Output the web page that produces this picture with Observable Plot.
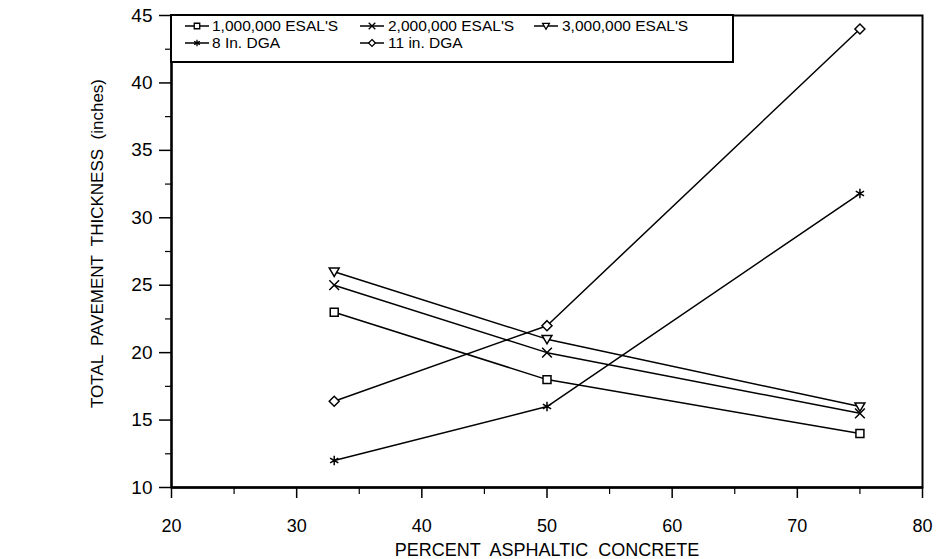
<!DOCTYPE html>
<html>
<head>
<meta charset="utf-8">
<script src="https://cdn.jsdelivr.net/npm/d3@7"></script>
<script src="https://cdn.jsdelivr.net/npm/@observablehq/plot@0.6"></script>
<style>
  html, body { margin: 0; padding: 0; background: #fff; }
  #chart { width: 937px; height: 559px; }
</style>
</head>
<body>
<div id="chart"></div>
<script>
// ---- data ----
const xValues = [33, 50, 75];
const seriesNames = ["1,000,000 ESAL'S", "2,000,000 ESAL'S", "3,000,000 ESAL'S", "8 In. DGA", "11 in. DGA"];
const esal1M = [23, 18, 14];
const esal2M = [25, 20, 15.5];
const esal3M = [26, 21, 16];
const dga8 = [12, 16, 31.8];
const dga11 = [16.4, 22, 44];
const xTicks = [20, 30, 40, 50, 60, 70, 80];
const xMinorTicks = [25, 35, 45, 55, 65, 75];
const yTicks = [10, 15, 20, 25, 30, 35, 40, 45];
const yMinorTicks = [12.5, 17.5, 22.5, 27.5, 32.5, 37.5, 42.5];
const xTitle = "PERCENT  ASPHALTIC  CONCRETE";
const yTitle = "TOTAL  PAVEMENT  THICKNESS  (inches)";

const seriesValues = [esal1M, esal2M, esal3M, dga8, dga11];

const triangleDown = {
  draw(context, size) {
    const s = Math.sqrt(size) * 0.62;
    context.moveTo(-s, -s * 0.75);
    context.lineTo(s, -s * 0.75);
    context.lineTo(0, s * 0.95);
    context.closePath();
  }
};
const seriesSymbols = [d3.symbolSquare, d3.symbolTimes, triangleDown, d3.symbolAsterisk, d3.symbolDiamond2];

const rows = seriesNames.flatMap((s, i) =>
  xValues.map((x, j) => ({ series: s, x, y: seriesValues[i][j] }))
);

const font = "'Liberation Sans', Arial, sans-serif";

const chart = Plot.plot({
  width: 937,
  height: 559,
  marginLeft: 171,
  marginRight: 15,
  marginTop: 15,
  marginBottom: 72,
  style: { fontFamily: font, background: "#fff", color: "#000" },
  x: { domain: [20, 80] },
  y: { domain: [10, 45] },
  marks: [
    Plot.axisX({ ticks: xTicks, tickSize: 11, tickPadding: 21, fontSize: 18, label: null, strokeWidth: 1.5 }),
    Plot.axisX({ ticks: xMinorTicks, tickSize: 7, tickFormat: () => "", label: null, strokeWidth: 1.2 }),
    Plot.axisY({ ticks: yTicks, tickSize: 12, tickPadding: 7, fontSize: 19, label: null, strokeWidth: 1.5 }),
    Plot.axisY({ ticks: yMinorTicks, tickSize: 6, tickFormat: () => "", label: null, strokeWidth: 1.2 }),
    Plot.frame({ stroke: "#000", strokeWidth: 2 }),
    Plot.ruleY([10], { stroke: "#000", strokeWidth: 2.5 }),
    Plot.ruleX([20], { stroke: "#000", strokeWidth: 2.2 }),
    Plot.line(rows, { x: "x", y: "y", z: "series", stroke: "#000", strokeWidth: 1.5 }),
    ...seriesNames.map((name, i) =>
      Plot.dot(rows.filter(d => d.series === name), {
        x: "x", y: "y", symbol: seriesSymbols[i], r: 4.5,
        stroke: "#000", fill: "#fff", strokeWidth: 1.5
      })
    ),
    Plot.text([xTitle], { frameAnchor: "bottom", lineAnchor: "middle", dy: 63, fontSize: 18, fill: "#000" }),
    Plot.text([yTitle], { frameAnchor: "left", textAnchor: "middle", lineAnchor: "middle", dx: -74, dy: -8, rotate: -90, fontSize: 17, fill: "#000" })
  ]
});

// ---- legend (inside the plot box, top-left) ----
const svg = d3.select(chart);
const lg = svg.append("g").attr("font-family", font).attr("font-size", 15.5).attr("text-anchor", "start");
lg.append("rect")
  .attr("x", 171).attr("y", 15).attr("width", 562).attr("height", 47)
  .attr("fill", "#fff").attr("stroke", "#000").attr("stroke-width", 2);
const legendPos = [
  { cx: 197, tx: 212, cy: 26 },
  { cx: 372, tx: 388, cy: 26 },
  { cx: 546, tx: 562, cy: 26 },
  { cx: 197, tx: 212, cy: 43 },
  { cx: 372, tx: 388, cy: 43 }
];
seriesNames.forEach((name, i) => {
  const p = legendPos[i];
  lg.append("line")
    .attr("x1", p.cx - 12).attr("x2", p.cx + 12).attr("y1", p.cy).attr("y2", p.cy)
    .attr("stroke", "#000").attr("stroke-width", 1.5);
  lg.append("path")
    .attr("transform", `translate(${p.cx},${p.cy})`)
    .attr("d", d3.symbol(seriesSymbols[i], 30)())
    .attr("fill", "#fff").attr("stroke", "#000").attr("stroke-width", 1.3);
  lg.append("text")
    .attr("x", p.tx).attr("y", p.cy).attr("dy", "0.35em")
    .attr("text-anchor", "start")
    .attr("fill", "#000").text(name);
});

document.getElementById("chart").appendChild(chart);
</script>
</body>
</html>
